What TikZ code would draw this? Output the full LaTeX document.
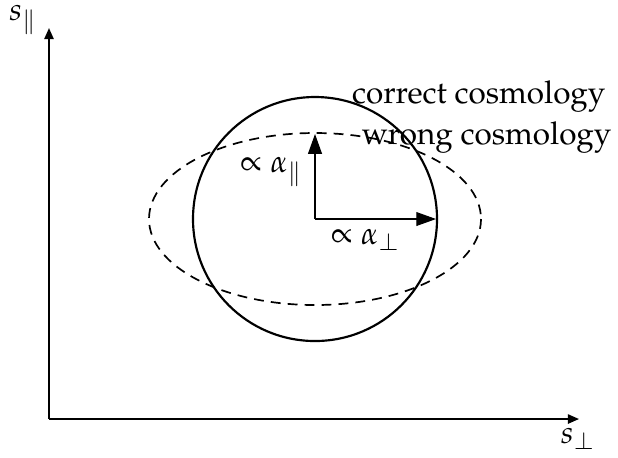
\documentclass[tikz,border=0pt]{standalone}
\usepackage[T1]{fontenc}
\usepackage{mathpazo}
\usetikzlibrary{arrows.meta}
\begin{document}
\begin{tikzpicture}[x=0.0114cm,y=-0.0114cm,
  axis/.style={line width=0.6pt,-{Triangle[length=3.6pt,width=3pt]}},
  vec/.style={line width=0.35pt,-{Triangle[length=6.4pt,width=4.5pt]}},
  lbl/.style={inner sep=0pt,font=\fontsize{10.2}{12}\selectfont}]
\useasboundingbox (0,0) rectangle (618,457);
\coordinate (orig) at (49,419);
\coordinate (ytip) at (49,28);
\coordinate (xtip) at (579,419);
\coordinate (c) at (315,219);
\coordinate (up) at (315,134);
\coordinate (right) at (436,219);
\draw[axis] (orig) -- (ytip);
\draw[axis] (orig) -- (xtip);
\node[lbl] (spar) at (23,20) {$s_\parallel$};
\node[lbl] (sperp) at (578,439) {$s_\perp$};
\draw[line width=0.7pt] (c) circle [radius=122];
\draw[line width=0.55pt,dash pattern=on 3.2pt off 2.3pt] (c) ellipse [x radius=166, y radius=86];
\draw[vec] (c) -- (up);
\draw[vec] (c) -- (right);
\node[lbl,anchor=east] (apar) at (303,172) {$\propto\alpha_\parallel$};
\node[lbl,anchor=west] (aperp) at (330,240) {$\propto\alpha_\perp$};
\node[lbl,anchor=east] (correct) at (606,97) {correct cosmology};
\node[lbl,anchor=east] (wrong) at (612,138) {wrong cosmology};
\end{tikzpicture}
\end{document}
